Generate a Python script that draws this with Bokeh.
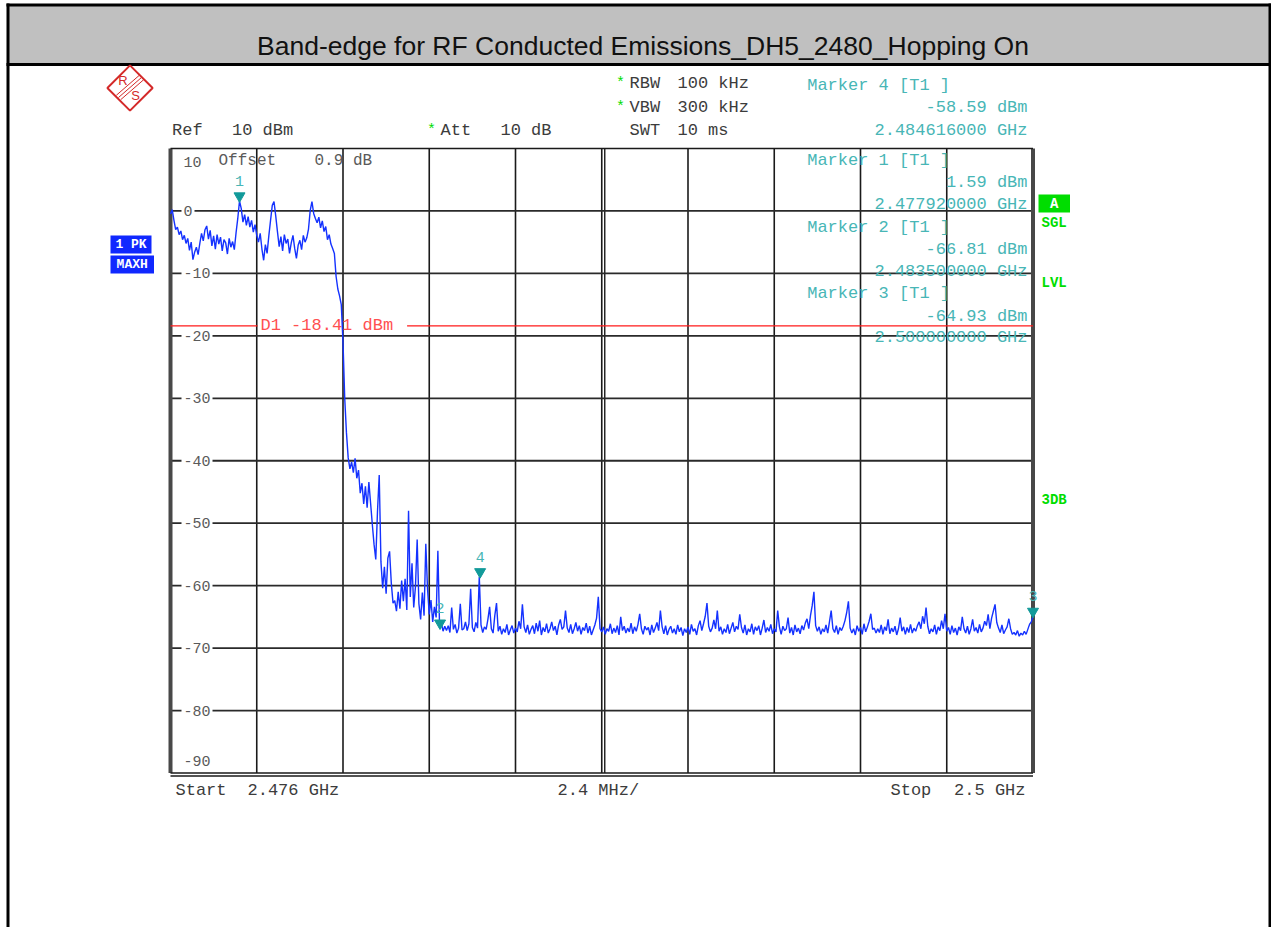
import numpy as np
from bokeh.plotting import figure
from bokeh.models import Range1d
from bokeh.core.properties import value
from bokeh.embed import file_html
from bokeh.resources import INLINE

# ---------------- data ----------------
TITLE = "Band-edge for RF Conducted Emissions_DH5_2480_Hopping On"
F_START = 2.476      # GHz
F_STOP = 2.5         # GHz
N_POINTS = 501
REF_LEVEL = 10       # dBm (top of grid)
BOTTOM_LEVEL = -90   # dBm (bottom of grid)
D1_LEVEL = -18.41
RBW = "100 kHz"
VBW = "300 kHz"
SWT = "10 ms"
ATT = "10 dB"
OFFSET = "0.9 dB"

trace_dbm = [
    -0.5, 0.2, -1.5, -3.0, -2.6, -3.8, -3.2, -4.6, -3.9, -5.2,
    -4.4, -6.3, -5.0, -7.8, -6.6, -5.8, -7.0, -5.2, -3.6, -4.8,
    -3.0, -2.4, -4.5, -3.1, -5.6, -4.0, -6.1, -3.8, -5.3, -4.2,
    -6.4, -4.6, -5.1, -6.9, -4.4, -5.8, -4.9, -6.2, -3.5, -1.2,
    1.59, 0.4, -1.8, -0.6, -2.3, -0.9, -2.6, -1.5, -3.4, -2.2,
    -3.9, -5.0, -3.6, -6.1, -7.9, -5.4, -6.8, -4.0, -1.5, 0.9,
    1.5, -0.8, -3.3, -5.7, -4.1, -6.4, -3.8, -5.2, -4.5, -6.8,
    -5.1, -3.9, -6.0, -7.6, -5.5, -4.7, -6.2, -3.9, -5.0, -4.3,
    -2.9, 0.1, 1.5, -0.4, -1.2, -1.9, -1.0, -2.7, -1.6, -3.3,
    -2.5, -4.6, -3.8, -5.3, -6.0, -6.8, -10.5, -12.5, -13.6, -15.0,
    -21.0, -30.0, -35.5, -39.5, -41.3, -40.2, -41.9, -39.6, -42.8, -41.5,
    -45.2, -43.6, -46.9, -44.1, -47.5, -43.4, -46.8, -50.2, -53.4, -55.8,
    -48.1, -42.3, -56.2, -60.4, -57.0, -61.3, -55.6, -54.5, -59.6, -62.8,
    -62.4, -64.1, -61.0, -63.7, -59.2, -62.5, -58.9, -63.9, -48.0, -61.8,
    -56.4, -63.5, -60.2, -52.6, -62.9, -65.4, -61.1, -64.8, -53.3, -60.5,
    -64.6, -62.3, -65.8, -63.4, -65.1, -54.4, -66.81, -65.9, -67.3, -66.5,
    -67.2, -66.4, -67.5, -63.5, -67.0, -66.2, -67.6, -66.8, -62.9, -67.1,
    -66.9, -65.8, -67.2, -66.1, -60.5, -66.7, -67.4, -65.9, -66.8, -58.59,
    -66.3, -67.5, -66.6, -67.0, -65.4, -63.4, -66.9, -67.6, -64.8, -62.8,
    -67.3, -66.5, -67.8, -66.9, -67.5, -66.2, -67.9, -67.1, -66.4, -67.6,
    -66.8, -67.4, -65.7, -66.9, -63.0, -66.6, -67.5, -66.3, -67.8, -67.0,
    -66.4, -67.7, -66.0, -67.3, -65.6, -67.9, -66.7, -67.4, -66.1, -67.6,
    -66.9, -65.8, -67.2, -66.5, -67.9, -66.3, -65.4, -67.0, -66.6, -64.0,
    -66.8, -67.5, -66.2, -67.7, -66.9, -65.9, -67.3, -66.4, -67.8, -66.7,
    -67.2, -66.0, -67.6, -66.5, -67.9, -67.1, -66.3, -65.2, -61.8, -66.9,
    -67.4, -66.6, -67.8, -66.9, -67.3, -66.1, -67.7, -66.8, -67.5, -66.4,
    -67.9, -65.0, -67.2, -66.5, -67.6, -66.8, -67.4, -66.0, -67.7, -66.6,
    -67.3, -66.2, -64.5, -66.9, -67.8, -66.5, -67.1, -66.7, -67.9, -66.3,
    -67.5, -66.8, -65.9, -67.2, -64.0, -66.6, -67.7, -66.4, -67.9, -67.0,
    -66.5, -67.6, -66.9, -67.8, -66.3, -67.4, -66.7, -68.0, -66.9, -67.5,
    -66.6, -67.8, -66.2, -67.3, -66.9, -67.9, -66.4, -65.6, -67.2, -66.1,
    -64.9, -62.8, -66.5, -67.4, -66.8, -65.5, -66.9, -64.0, -67.3, -66.6,
    -67.8, -66.9, -67.5, -66.2, -67.7, -66.8, -65.9, -67.4, -66.5, -67.0,
    -64.6, -66.7, -67.6, -66.3, -67.9, -66.9, -67.4, -66.1, -67.8, -66.6,
    -67.2, -66.4, -67.9, -66.8, -65.5, -67.5, -66.7, -67.3, -66.2, -67.7,
    -66.9, -67.4, -64.0, -66.6, -67.8, -66.5, -67.2, -66.9, -65.1, -67.6,
    -66.7, -67.9, -66.3, -67.4, -66.8, -67.7, -66.4, -67.1, -66.0, -65.3,
    -66.9, -64.8, -63.2, -61.0, -66.4, -67.3, -66.6, -67.8, -66.9, -67.4,
    -66.3, -67.6, -65.8, -64.0, -66.9, -67.5, -66.4, -67.8, -66.7, -67.2,
    -66.5, -65.6, -64.3, -62.5, -66.8, -67.6, -66.9, -67.9, -66.4, -67.3,
    -66.7, -67.8, -66.1, -67.4, -66.6, -65.7, -64.5, -67.0, -66.8, -67.6,
    -66.9, -67.5, -66.3, -67.8, -66.6, -67.2, -65.4, -67.7, -66.8, -67.4,
    -66.5, -67.9, -66.9, -65.1, -67.3, -66.6, -67.8, -66.7, -67.5, -66.2,
    -67.6, -66.8, -67.3, -66.4, -65.8, -66.9, -64.9, -66.1, -63.5, -66.5,
    -67.7, -66.9, -67.4, -66.3, -67.8, -66.6, -67.2, -65.6, -66.9, -64.5,
    -67.3, -66.7, -67.8, -66.4, -67.5, -66.8, -67.9, -66.6, -67.2, -65.0,
    -66.9, -67.6, -66.5, -67.8, -66.9, -65.4, -67.3, -66.7, -67.6, -66.2,
    -67.4, -66.8, -65.7, -66.4, -64.6, -66.9, -65.2, -64.1, -63.0, -65.9,
    -66.8, -67.5, -66.3, -67.7, -67.1, -66.6, -65.3, -66.9, -67.8, -67.5,
    -67.9, -67.2, -68.1, -67.6, -67.9, -67.3, -67.8, -67.0, -66.2, -65.8,
    -64.93,
]

marker_num = [1, 2, 3, 4]
marker_freq = [2.47792, 2.4835, 2.5, 2.484616]
marker_dbm = [1.59, -66.81, -64.93, -58.59]
marker_list_order = [4, 1, 2, 3]          # order of the readout blocks
y_ticks = [10, 0, -10, -20, -30, -40, -50, -60, -70, -80, -90]
N_DIV = 10

# ---------------- layout (picture pixels) ----------------
W, H = 1271, 927
PX0, PY0 = 0, 0
PX1, PY1 = PX0 + W, PY0 + H
FL, FR, FT, FB = 170.0, 1032.5, 148.0, 772.5     # spectrum frame

fpp = (F_STOP - F_START) / (FR - FL)
dpp = (REF_LEVEL - BOTTOM_LEVEL) / (FB - FT)

p = figure(width=W, height=H,
           x_range=Range1d(PX0, PX1), y_range=Range1d(PY1, PY0),
           x_axis_type=None, y_axis_type=None, min_border=0,
           toolbar_location=None, output_backend="svg",
           outline_line_color=None, background_fill_color="white",
           border_fill_color="white")
p.extra_x_ranges = {"f": Range1d(F_START - (FL - PX0) * fpp, F_STOP + (PX1 - FR) * fpp)}
p.extra_y_ranges = {"db": Range1d(BOTTOM_LEVEL - (PY1 - FB) * dpp, REF_LEVEL + (FT - PY0) * dpp)}

MONO = value("Liberation Mono")
SANS = value("Liberation Sans")
DARK = "#3c3c3c"
GRAY = "#5a5a5a"
TEAL_TXT = "#48b6b6"
TEAL_MK = "#129a9a"
GREEN = "#00dd00"
BLUE_BOX = "#1028ff"
FS = 17


def txt(x, y, s, color, size=FS, align="left", font=MONO, bold=False,
        baseline="middle", **kw):
    p.text(x=[x], y=[y], text=[s], text_color=color, text_font=font,
           text_font_size=f"{size}px", text_align=align, text_baseline=baseline,
           text_font_style="bold" if bold else "normal", **kw)


# ---- header & page frame ----
p.quad(left=[7], right=[PX1], top=[5], bottom=[63], fill_color="#c0c0c0",
       line_color=None)
p.segment(x0=[6, 6, 7.5, PX1 - 1.5], y0=[4.5, 64, 3, 3],
          x1=[PX1, PX1, 7.5, PX1 - 1.5], y1=[4.5, 64, PY1, PY1],
          line_color="black", line_width=3)
txt(642.5, 45, TITLE, "#111111", size=26.5, align="center", font=SANS)

# ---- R&S logo ----
p.scatter(x=[129.5], y=[87.5], marker="square", size=32, angle=np.pi / 4,
          fill_color=None, line_color="#d42a2a", line_width=2)
for d in (-2.2, 0, 2.2):
    p.segment(x0=[141 + d], y0=[77 + d], x1=[118 + d], y1=[97 + d],
              line_color="#d42a2a", line_width=1)
txt(122.5, 80, "R", "#d42a2a", size=13, align="center", font=SANS)
txt(135, 95, "S", "#d42a2a", size=13, align="center", font=SANS)

# ---- grid ----
freq_lines = [F_START + k * (F_STOP - F_START) / N_DIV for k in range(N_DIV + 1)]
inner_f = freq_lines[1:-1]
p.segment(x0=inner_f, y0=[BOTTOM_LEVEL] * len(inner_f), x1=inner_f,
          y1=[REF_LEVEL] * len(inner_f), x_range_name="f", y_range_name="db",
          line_color="#1a1a1a", line_width=1.6)
centre = [freq_lines[N_DIV // 2] + 3 * fpp]
p.segment(x0=centre, y0=[BOTTOM_LEVEL], x1=centre, y1=[REF_LEVEL],
          x_range_name="f", y_range_name="db", line_color="#1a1a1a", line_width=1.4)
inner_db = y_ticks[1:-1]
p.segment(x0=[F_START] * len(inner_db), y0=inner_db, x1=[F_STOP] * len(inner_db),
          y1=inner_db, x_range_name="f", y_range_name="db",
          line_color="#2a2a2a", line_width=1.8)
# frame
p.segment(x0=[F_START, F_STOP], y0=[BOTTOM_LEVEL] * 2, x1=[F_START, F_STOP],
          y1=[REF_LEVEL] * 2, x_range_name="f", y_range_name="db",
          line_color="#484848", line_width=4)
p.segment(x0=[F_START, F_START], y0=[REF_LEVEL, BOTTOM_LEVEL],
          x1=[F_STOP, F_STOP], y1=[REF_LEVEL, BOTTOM_LEVEL],
          x_range_name="f", y_range_name="db", line_color="#1a1a1a", line_width=1.6)
p.segment(x0=[F_START], y0=[BOTTOM_LEVEL - 3 * dpp], x1=[F_STOP],
          y1=[BOTTOM_LEVEL - 3 * dpp], x_range_name="f", y_range_name="db",
          line_color="#1a1a1a", line_width=1.6)

# y tick labels inside the frame
offs = [13 if t == REF_LEVEL else (-12.5 if t == BOTTOM_LEVEL else 0) for t in y_ticks]
p.text(x=[181] * len(y_ticks), y=y_ticks, text=[str(t) for t in y_ticks],
       y_range_name="db", y_offset=offs, text_color=GRAY, text_font=MONO,
       text_font_size="15px", text_baseline="middle", text_align="left",
       background_fill_color="white", padding=2)
txt(218, 160.7, "Offset", GRAY, size=16)
txt(314, 160.7, OFFSET, GRAY, size=16)

# ---- D1 display line ----
d1_label_x = 260
d1_size = FS
d1_label_end = d1_label_x + len(f"D1 {D1_LEVEL} dBm") * 0.6 * d1_size
p.segment(x0=[FL, d1_label_end + 14], y0=[D1_LEVEL] * 2, x1=[d1_label_x - 3, FR],
          y1=[D1_LEVEL] * 2, y_range_name="db", line_color="#ff1a1a", line_width=1.3)
p.text(x=[d1_label_x], y=[D1_LEVEL], text=[f"D1 {D1_LEVEL} dBm"], y_range_name="db",
       text_color="#ff5050", text_font=MONO, text_font_size=f"{d1_size}px",
       text_baseline="middle", text_align="left")

# ---- trace ----
freqs = np.linspace(F_START, F_STOP, N_POINTS)
p.line(freqs, trace_dbm, x_range_name="f", y_range_name="db",
       line_color="#1432ff", line_width=1.4)

# ---- markers ----
lift = 5 * dpp
p.scatter(x=marker_freq, y=[v + lift for v in marker_dbm], marker="inverted_triangle",
          size=11, x_range_name="f", y_range_name="db", fill_color=TEAL_MK,
          line_color=TEAL_MK)
p.text(x=marker_freq, y=marker_dbm, text=[str(n) for n in marker_num],
       x_range_name="f", y_range_name="db", y_offset=-20, text_color=TEAL_TXT,
       text_font=MONO, text_font_size="15px", text_align="center",
       text_baseline="middle")

# ---- readout text ----
for yy, lab, val, star in [(83.3, "RBW", RBW, True), (106.7, "VBW", VBW, True),
                           (130, "SWT", SWT, False)]:
    if star:
        txt(620, yy, "*", GREEN, size=15, align="center")
    txt(629, yy, lab, DARK)
    txt(677, yy, val, DARK)
txt(171.5, 130, "Ref", DARK)
txt(231.5, 130, f"{REF_LEVEL} dBm", DARK)
txt(431, 130, "*", GREEN, size=15, align="center")
txt(440, 130, "Att", DARK)
txt(500, 130, ATT, DARK)

block_y = [(85, 106.7, 130), (160, 181.7, 204), (226.7, 249.3, 270.7),
           (293.3, 316, 337.3)]
for (y0, y1, y2), n in zip(block_y, marker_list_order):
    i = marker_num.index(n)
    txt(806.7, y0, f"Marker {n} [T1 ]", TEAL_TXT)
    txt(1027, y1, f"{marker_dbm[i]:.2f} dBm", TEAL_TXT, align="right")
    txt(1027, y2, f"{marker_freq[i]:.9f} GHz", TEAL_TXT, align="right")

# left trace info boxes
p.quad(left=[110, 110], right=[151, 153.5], top=[235, 255], bottom=[253, 273],
       fill_color=BLUE_BOX, line_color=None)
txt(130.5, 244, "1 PK", "white", size=13, align="center", bold=True)
txt(131.7, 264, "MAXH", "white", size=13, align="center", bold=True)

# right side status
p.quad(left=[1038], right=[1069.5], top=[194], bottom=[212], fill_color=GREEN,
       line_color=None)
txt(1053.7, 203, "A", "white", size=14, align="center", bold=True)
txt(1041, 222.7, "SGL", GREEN, size=14, bold=True)
txt(1041, 282.7, "LVL", GREEN, size=14, bold=True)
txt(1041, 499.3, "3DB", GREEN, size=14, bold=True)

# bottom
span_div = round((F_STOP - F_START) / N_DIV * 1000, 3)
txt(175, 790, "Start", DARK)
txt(247, 790, f"{F_START:g} GHz", DARK)
txt(557, 790, f"{span_div:g} MHz/", DARK)
txt(890, 790, "Stop", DARK)
txt(1025, 790, f"{F_STOP:g} GHz", DARK, align="right")

open("out.html", "w").write(file_html(p, INLINE))
